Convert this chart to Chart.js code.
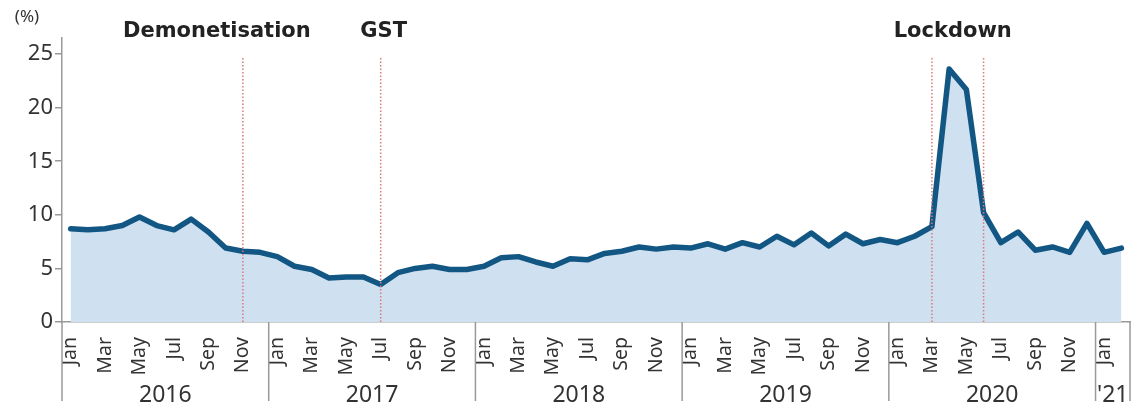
<html>
<head>
<style>
  body { margin: 0; background: #fff; }
  #wrap { width: 1135px; height: 410px; position: relative; }
</style>
</head>
<body>
<script src="https://cdnjs.cloudflare.com/ajax/libs/Chart.js/4.4.1/chart.umd.min.js"></script>
<div id="wrap"><canvas id="myChart"></canvas></div>
<script>
// monthly unemployment rate (%), Jan 2016 - Feb 2021
const monthNames = ['Jan','Feb','Mar','Apr','May','Jun','Jul','Aug','Sep','Oct','Nov','Dec'];
const yearLabels = ['2016','2017','2018','2019','2020',"'21"];
const yTicks = [0, 5, 10, 15, 20, 25];
const rate = [
  8.7, 8.6, 8.7, 9.0, 9.8, 9.0, 8.6, 9.6, 8.4, 6.9, 6.6, 6.5,   // 2016
  6.1, 5.2, 4.9, 4.1, 4.2, 4.2, 3.5, 4.6, 5.0, 5.2, 4.9, 4.9,   // 2017
  5.2, 6.0, 6.1, 5.6, 5.2, 5.9, 5.8, 6.4, 6.6, 7.0, 6.8, 7.0,   // 2018
  6.9, 7.3, 6.8, 7.4, 7.0, 8.0, 7.2, 8.3, 7.1, 8.2, 7.3, 7.7,   // 2019
  7.4, 8.0, 8.9, 23.6, 21.7, 10.2, 7.4, 8.4, 6.7, 7.0, 6.5, 9.2, // 2020
  6.5, 6.9                                                      // 2021
];
// events: label and the month indexes where a dotted line is drawn
const eventNames = ['Demonetisation', 'GST', 'Lockdown'];
const eventLines = [[10], [18], [50, 53]];

let labels = [];
for (let i = 0; i < rate.length; i++) labels.push(monthNames[i % 12]);

const fontFam = "'Noto Sans', 'DejaVu Sans', sans-serif";

const extras = {
  id: 'extras',
  afterDraw(chart) {
    const c = chart.ctx, xs = chart.scales.x, a = chart.chartArea;
    c.save();
    // event lines
    c.strokeStyle = '#dc7a7a';
    c.lineWidth = 1.5;
    c.setLineDash([1.5, 2]);
    eventLines.forEach(ev => ev.forEach(i => {
      const x = xs.getPixelForValue(i);
      c.beginPath(); c.moveTo(x, 58); c.lineTo(x, a.bottom); c.stroke();
    }));
    c.setLineDash([]);
    // event names
    c.fillStyle = '#222';
    c.font = "bold 21px 'DejaVu Sans', sans-serif";
    c.textAlign = 'center'; c.textBaseline = 'middle';
    const nameX = [xs.getPixelForValue(10) - 26, xs.getPixelForValue(18) + 3,
                   (xs.getPixelForValue(50) + xs.getPixelForValue(53)) / 2 - 5];
    eventNames.forEach((n, k) => c.fillText(n, nameX[k], 32));
    // unit
    c.font = "17px " + fontFam;
    c.fillStyle = '#333';
    c.fillText('(%)', 27, 17);
    // year separators and labels
    c.strokeStyle = '#999';
    c.lineWidth = 1.5;
    const half = (xs.getPixelForValue(1) - xs.getPixelForValue(0)) / 2;
    const n = rate.length;
    let bounds = [];
    for (let i = 0; i < n; i += 12) bounds.push(i);
    bounds.push(n);
    c.font = "23px " + fontFam;
    bounds.forEach((b, k) => {
      const x = b < n ? xs.getPixelForValue(b) - half : xs.getPixelForValue(n - 1) + half;
      c.beginPath(); c.moveTo(x, a.bottom); c.lineTo(x, 401); c.stroke();
      if (k < bounds.length - 1) {
        const e = Math.min(bounds[k + 1], n) - 1;
        const cx = (xs.getPixelForValue(b) + xs.getPixelForValue(e)) / 2;
        c.fillText(yearLabels[k], cx, 395);
      }
    });
    c.restore();
  }
};

const ctx = document.getElementById('myChart').getContext('2d');
const myChart = new Chart(ctx, {
  type: 'line',
  data: {
    labels: labels,
    datasets: [{
      data: rate,
      borderColor: '#125683',
      borderWidth: 5.5,
      backgroundColor: '#cfe0f0',
      fill: 'origin',
      pointRadius: 0,
      tension: 0,
      borderJoinStyle: 'round',
      borderCapStyle: 'round'
    }]
  },
  options: {
    responsive: true,
    maintainAspectRatio: false,
    animation: false,
    layout: { padding: { top: 38, right: 5, left: 0, bottom: 0 } },
    plugins: { legend: { display: false }, tooltip: { enabled: false } },
    scales: {
      x: {
        offset: true,
        grid: { display: false },
        border: { color: '#999', width: 1.5 },
        ticks: {
          autoSkip: false, maxRotation: 90, minRotation: 90,
          color: '#333', padding: 7,
          font: { size: 19.5, family: fontFam },
          callback: (v, i) => (i % 2 === 0 ? labels[i] : '')
        },
        afterFit: s => { s.height = 88; s.paddingRight = 0; s.paddingLeft = 0; }
      },
      y: {
        min: 0, max: 26.5,
        grid: { drawOnChartArea: false, tickLength: 7, color: '#999', lineWidth: 1.5 },
        border: { color: '#999', width: 1.5 },
        ticks: { color: '#333', padding: 2, font: { size: 22, family: fontFam } },
        afterBuildTicks: s => { s.ticks = yTicks.map(v => ({ value: v })); },
        afterFit: s => { s.width = 62; }
      }
    }
  },
  plugins: [extras]
});
</script>
</body>
</html>
